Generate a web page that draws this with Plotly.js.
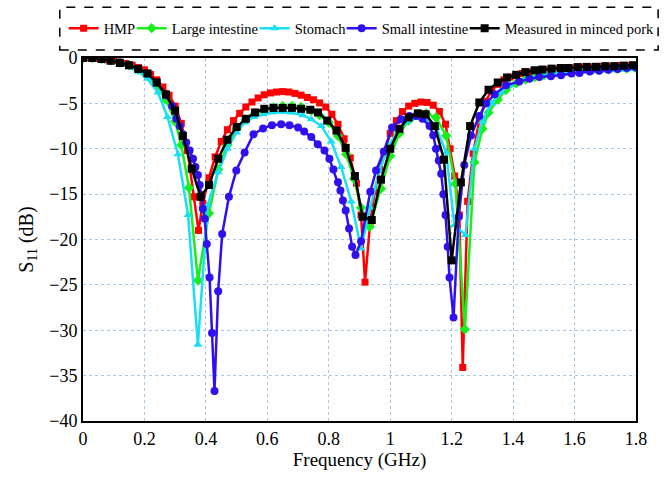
<!DOCTYPE html>
<html>
<head>
<meta charset="utf-8">
<script src="https://cdn.plot.ly/plotly-3.0.1.min.js"></script>
<style>html,body{margin:0;padding:0;background:#fff;}#chart{width:670px;height:489px;}</style>
</head>
<body>
<div id="chart"></div>
<script>
// ---- Data ----
const seriesNames = ["HMP", "Large intestine", "Stomach", "Small intestine", "Measured in minced pork"];

const hmpFreq = [0,0.02,0.04,0.06,0.08,0.10,0.12,0.14,0.16,0.18,0.20,0.22,0.24,0.26,0.28,0.30,0.32,0.34,0.36,0.376,0.39,0.41,0.43,0.45,0.47,0.49,0.51,0.53,0.55,0.57,0.59,0.61,0.63,0.65,0.67,0.69,0.71,0.73,0.75,0.77,0.79,0.81,0.83,0.85,0.87,0.89,0.905,0.918,0.935,0.95,0.965,0.98,1.0,1.02,1.04,1.06,1.08,1.10,1.12,1.14,1.16,1.18,1.195,1.21,1.225,1.236,1.252,1.27,1.29,1.31,1.33,1.35,1.37,1.39,1.41,1.43,1.45,1.47,1.49,1.51,1.53,1.55,1.57,1.59,1.61,1.63,1.65,1.67,1.69,1.71,1.73,1.75,1.77,1.79];
const hmpS11 = [0,0,-0.05,-0.1,-0.2,-0.3,-0.45,-0.6,-0.8,-1.05,-1.3,-1.8,-2.4,-3.2,-4.1,-5.3,-7.2,-10.2,-15.3,-19.0,-16.0,-13.2,-10.9,-9.2,-7.9,-6.9,-6.1,-5.4,-4.85,-4.4,-4.05,-3.85,-3.75,-3.7,-3.75,-3.9,-4.1,-4.35,-4.6,-4.95,-5.4,-6.2,-7.3,-8.9,-11.0,-13.8,-17.3,-24.7,-18.0,-14.7,-12.3,-10.5,-8.3,-6.9,-5.9,-5.3,-5.0,-4.85,-4.9,-5.2,-5.9,-7.3,-10.0,-13.0,-17.3,-34.1,-15.8,-10.5,-6.8,-4.8,-3.6,-2.9,-2.4,-2.1,-1.9,-1.7,-1.55,-1.45,-1.35,-1.3,-1.25,-1.2,-1.15,-1.1,-1.05,-1.0,-0.98,-0.95,-0.92,-0.9,-0.88,-0.85,-0.83,-0.8];

const largeFreq = [0,0.03,0.06,0.09,0.12,0.15,0.18,0.21,0.24,0.27,0.30,0.32,0.345,0.374,0.41,0.44,0.47,0.50,0.53,0.56,0.59,0.62,0.65,0.68,0.71,0.743,0.77,0.80,0.83,0.857,0.882,0.905,0.933,0.97,1.0,1.03,1.06,1.09,1.117,1.149,1.182,1.212,1.243,1.274,1.30,1.32,1.35,1.377,1.41,1.44,1.47,1.50,1.53,1.56,1.59,1.62,1.65,1.68,1.71,1.74,1.77,1.80];
const largeS11 = [0,0,-0.1,-0.25,-0.5,-0.8,-1.3,-2.0,-3.0,-4.6,-7.0,-9.6,-14.3,-24.5,-17.1,-12.3,-9.6,-7.8,-6.8,-6.1,-5.7,-5.45,-5.3,-5.3,-5.4,-5.8,-6.3,-7.1,-8.6,-10.6,-13.3,-16.5,-18.6,-14.4,-10.8,-8.3,-6.9,-6.25,-6.1,-6.55,-8.56,-13.85,-29.9,-11.5,-7.8,-6.0,-4.6,-3.5,-2.8,-2.37,-2.1,-1.9,-1.75,-1.6,-1.5,-1.4,-1.35,-1.3,-1.25,-1.2,-1.15,-1.1];

const stomachFreq = [0,0.03,0.06,0.09,0.12,0.15,0.18,0.21,0.244,0.275,0.309,0.342,0.374,0.406,0.44,0.47,0.50,0.526,0.556,0.586,0.616,0.646,0.676,0.716,0.743,0.776,0.808,0.84,0.873,0.905,0.935,0.965,0.995,1.025,1.055,1.085,1.115,1.15,1.182,1.209,1.245,1.274,1.30,1.33,1.36,1.39,1.42,1.45,1.48,1.51,1.54,1.57,1.60,1.63,1.66,1.69,1.72,1.75,1.78,1.80];
const stomachS11 = [0,0,-0.1,-0.3,-0.6,-1.0,-1.5,-2.3,-3.8,-6.5,-10.6,-17.3,-31.6,-16.2,-12.6,-10.0,-8.2,-7.1,-6.5,-6.2,-6.0,-5.95,-6.0,-6.3,-6.75,-7.5,-9.2,-12.0,-15.8,-21.0,-16.5,-12.4,-9.7,-8.0,-7.0,-6.6,-6.7,-7.7,-10.4,-18.4,-19.5,-10.0,-7.0,-5.0,-3.8,-3.0,-2.5,-2.2,-2.0,-1.85,-1.75,-1.65,-1.55,-1.5,-1.45,-1.4,-1.35,-1.3,-1.25,-1.2];

const smallFreq = [0,0.03,0.06,0.09,0.12,0.15,0.18,0.21,0.24,0.27,0.29,0.304,0.315,0.325,0.336,0.347,0.358,0.366,0.374,0.38,0.385,0.39,0.396,0.403,0.412,0.42,0.428,0.44,0.453,0.475,0.499,0.526,0.555,0.586,0.615,0.645,0.672,0.70,0.72,0.743,0.764,0.786,0.802,0.815,0.83,0.838,0.846,0.855,0.866,0.876,0.887,0.905,0.935,0.954,0.979,1.006,1.035,1.062,1.084,1.105,1.128,1.14,1.149,1.158,1.166,1.173,1.18,1.187,1.193,1.206,1.223,1.241,1.263,1.29,1.312,1.34,1.377,1.42,1.453,1.485,1.523,1.556,1.59,1.616,1.65,1.68,1.71,1.74,1.77,1.80];
const smallS11 = [0,0,-0.1,-0.3,-0.5,-0.8,-1.2,-1.7,-2.7,-4.1,-5.3,-6.7,-7.5,-8.4,-9.3,-10.2,-11.1,-12.0,-12.9,-14.0,-15.1,-16.6,-17.7,-20.5,-24.2,-30.3,-36.7,-25.7,-19.4,-15.3,-12.4,-10.4,-8.4,-7.76,-7.4,-7.3,-7.4,-7.65,-8.1,-8.7,-9.5,-10.2,-11.1,-12.3,-13.7,-14.6,-15.7,-16.8,-18.8,-20.8,-21.7,-20.2,-14.75,-12.4,-10.3,-7.65,-6.75,-6.4,-6.4,-6.7,-7.5,-8.5,-10.0,-11.3,-12.75,-15.0,-17.3,-20.8,-24.2,-28.6,-17.5,-11.8,-8.55,-6.4,-5.0,-4.0,-3.0,-2.6,-2.3,-2.1,-2.0,-1.9,-1.7,-1.64,-1.5,-1.4,-1.3,-1.2,-1.1,-1.05];

const porkFreq = [0,0.03,0.06,0.09,0.12,0.15,0.18,0.21,0.24,0.27,0.30,0.325,0.354,0.383,0.41,0.44,0.47,0.50,0.53,0.56,0.59,0.62,0.65,0.68,0.71,0.74,0.765,0.795,0.825,0.855,0.885,0.91,0.94,0.97,1.0,1.03,1.06,1.09,1.115,1.145,1.175,1.20,1.23,1.26,1.29,1.32,1.35,1.38,1.41,1.44,1.47,1.495,1.525,1.555,1.58,1.61,1.64,1.67,1.70,1.73,1.76,1.79];
const porkS11 = [0,0,-0.1,-0.3,-0.55,-0.8,-1.2,-1.7,-2.7,-4.0,-5.8,-8.6,-12.2,-15.3,-14.0,-11.1,-9.0,-7.6,-6.7,-6.0,-5.6,-5.5,-5.5,-5.5,-5.6,-5.7,-6.0,-6.9,-8.0,-9.9,-13.0,-17.5,-17.85,-13.4,-10.0,-7.8,-6.55,-6.1,-6.2,-7.5,-11.2,-22.3,-13.7,-7.5,-4.9,-3.5,-2.7,-2.15,-1.85,-1.55,-1.35,-1.27,-1.17,-1.1,-1.1,-1.0,-0.98,-0.97,-0.9,-0.9,-0.84,-0.8];

const xTickVals = [0,0.2,0.4,0.6,0.8,1.0,1.2,1.4,1.6,1.8];
const xTickText = ["0","0.2","0.4","0.6","0.8","1","1.2","1.4","1.6","1.8"];
const yTickVals = [0,-5,-10,-15,-20,-25,-30,-35,-40];

// ---- Styling ----
const FONT = "Liberation Serif, Times New Roman, serif";
const styles = [
  {color: "#ff0000", symbol: "square", size: 7, lw: 23},
  {color: "#1aee1a", symbol: "diamond", size: 8, lw: 78},
  {color: "#18dff2", symbol: "triangle-up", size: 8, lw: 42},
  {color: "#3010ee", symbol: "circle", size: 8, lw: 78},
  {color: "#000000", symbol: "square", size: 8, lw: 150}
];
const xs = [hmpFreq, largeFreq, stomachFreq, smallFreq, porkFreq];
const ys = [hmpS11, largeS11, stomachS11, smallS11, porkS11];

const traces = seriesNames.map((name, i) => ({
  type: "scatter",
  mode: "lines+markers",
  name: name,
  x: xs[i],
  y: ys[i],
  line: {color: styles[i].color, width: 2.5},
  marker: {color: styles[i].color, symbol: styles[i].symbol, size: styles[i].size},
  legendwidth: styles[i].lw
}));

const layout = {
  width: 670,
  height: 489,
  margin: {l: 83, r: 34, t: 55, b: 68},
  paper_bgcolor: "#ffffff",
  plot_bgcolor: "#ffffff",
  font: {family: FONT, color: "#000000", size: 17},
  showlegend: true,
  legend: {
    orientation: "h",
    x: -0.035, xanchor: "left",
    y: 1.038, yanchor: "bottom",
    font: {family: FONT, size: 14.5, color: "#000"},
    bgcolor: "rgba(0,0,0,0)",
    borderwidth: 0,
    itemwidth: 30
  },
  xaxis: {
    range: [0, 1.8],
    tickvals: xTickVals,
    ticktext: xTickText,
    showgrid: true,
    gridcolor: "#a9c8e6",
    griddash: "dot",
    gridwidth: 1,
    zeroline: false,
    showline: true,
    linecolor: "#000",
    linewidth: 2,
    mirror: true,
    ticks: "",
    tickfont: {family: FONT, size: 18},
    title: {text: "Frequency (GHz)", font: {family: FONT, size: 19}, standoff: 4}
  },
  yaxis: {
    range: [-40, 0],
    tickvals: yTickVals,
    showgrid: true,
    gridcolor: "#a9c8e6",
    griddash: "dot",
    gridwidth: 1,
    zeroline: false,
    showline: true,
    linecolor: "#000",
    linewidth: 2,
    mirror: true,
    ticks: "",
    tickfont: {family: FONT, size: 18},
    title: {text: "S<sub>11</sub> (dB)", font: {family: FONT, size: 20}, standoff: 10}
  },
  shapes: [{
    type: "rect", xref: "paper", yref: "paper",
    x0: -0.042, x1: 1.04, y0: 1.022, y1: 1.14,
    line: {color: "#000", width: 1.5, dash: "dash"},
    fillcolor: "rgba(0,0,0,0)"
  }]
};

Plotly.newPlot("chart", traces, layout, {displayModeBar: false, staticPlot: true});
</script>
</body>
</html>
